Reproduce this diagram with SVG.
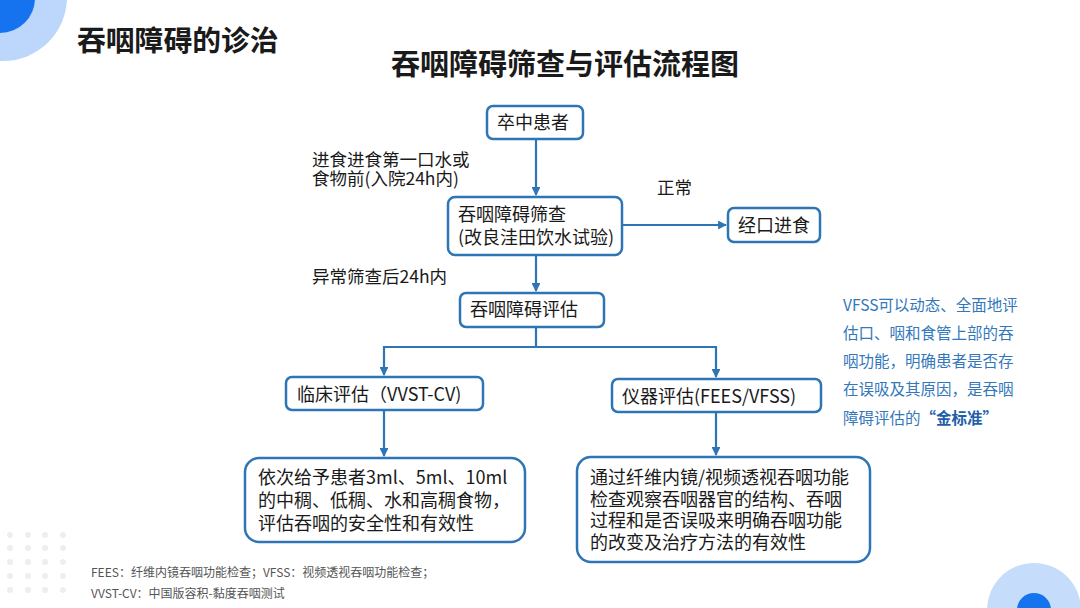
<svg xmlns="http://www.w3.org/2000/svg" width="1080" height="608" viewBox="0 0 1080 608">
<defs>
<style>
.box{fill:#fff;stroke:#2e75b6;stroke-width:2.5}
.t{font-family:"Noto Sans CJK SC","Microsoft YaHei",sans-serif;fill:#1a1a1a}
.n{font-size:18px}
.lb{font-size:17.5px}
.note{font-family:"Noto Sans CJK SC",sans-serif;font-size:15.5px;fill:#3478bb}
.foot{font-family:"Noto Sans CJK SC",sans-serif;font-size:12px;fill:#555}
.con{fill:none;stroke:#2e75b6;stroke-width:2.2}
.dot{fill:#eeeeee}
</style>
<marker id="ah" viewBox="0 0 10 10" refX="9" refY="5" markerWidth="4" markerHeight="4" orient="auto" markerUnits="strokeWidth">
<path d="M0,0 L10,5 L0,10 z" fill="#2e75b6"/>
</marker>
</defs>
<rect width="1080" height="608" fill="#fff"/>

<!-- decorations -->
<circle cx="3" cy="-3" r="64" fill="#bcd7fb"/>
<circle cx="0" cy="-2" r="35" fill="#1673f0"/>
<circle cx="1034" cy="610" r="47" fill="#c5ddfb"/>
<circle cx="1034" cy="610" r="17" fill="#1673f0"/>
<g>
<circle class="dot" cx="10" cy="535" r="3"/><circle class="dot" cx="28" cy="535" r="3"/><circle class="dot" cx="45" cy="535" r="3"/><circle class="dot" cx="63" cy="535" r="3"/>
<circle class="dot" cx="10" cy="548" r="3"/><circle class="dot" cx="28" cy="548" r="3"/><circle class="dot" cx="45" cy="548" r="3"/><circle class="dot" cx="63" cy="548" r="3"/>
<circle class="dot" cx="10" cy="562" r="3"/><circle class="dot" cx="28" cy="562" r="3"/><circle class="dot" cx="45" cy="562" r="3"/><circle class="dot" cx="63" cy="562" r="3"/>
<circle class="dot" cx="10" cy="576" r="3"/><circle class="dot" cx="28" cy="576" r="3"/><circle class="dot" cx="45" cy="576" r="3"/><circle class="dot" cx="63" cy="576" r="3"/>
<circle class="dot" cx="10" cy="590" r="3"/><circle class="dot" cx="28" cy="590" r="3"/><circle class="dot" cx="45" cy="590" r="3"/><circle class="dot" cx="63" cy="590" r="3"/>
</g>

<text class="t" x="77" y="51" font-size="28.8" font-weight="bold" fill="#111">吞咽障碍的诊治</text>
<text class="t" x="565" y="75" font-size="29" font-weight="bold" text-anchor="middle" fill="#111">吞咽障碍筛查与评估流程图</text>

<!-- connectors -->
<g id="connectors">
<path class="con" d="M536,139 V195" marker-end="url(#ah)"/>
<path class="con" d="M622,225 H726" marker-end="url(#ah)"/>
<path class="con" d="M536,256 V291" marker-end="url(#ah)"/>
<path class="con" d="M536,327 V347 H384 V375" marker-end="url(#ah)"/>
<path class="con" d="M536,347 H716 V377" marker-end="url(#ah)"/>
<path class="con" d="M384,410 V456" marker-end="url(#ah)"/>
<path class="con" d="M716,412 V455" marker-end="url(#ah)"/>
</g>

<!-- edge labels -->
<text class="t lb" x="312" y="166">进食进食第一口水或<tspan x="312" dy="19">食物前(入院24h内)</tspan></text>
<text class="t lb" x="657" y="194">正常</text>
<text class="t lb" x="312" y="283">异常筛查后24h内</text>

<!-- nodes -->
<g id="stroke-patient">
<rect class="box" x="487" y="106" width="96" height="33" rx="6"/>
<text class="t n" x="497" y="129">卒中患者</text>
</g>
<g id="screening">
<rect class="box" x="448" y="197" width="174" height="58" rx="7"/>
<text class="t n" x="458" y="221">吞咽障碍筛查<tspan x="458" dy="23">(改良洼田饮水试验)</tspan></text>
</g>
<g id="oral-feeding">
<rect class="box" x="728" y="208" width="92" height="34" rx="6"/>
<text class="t n" x="738" y="232">经口进食</text>
</g>
<g id="assessment">
<rect class="box" x="460" y="293" width="144" height="34" rx="6"/>
<text class="t n" x="470" y="316">吞咽障碍评估</text>
</g>
<g id="clinical">
<rect class="box" x="286" y="377" width="197" height="33" rx="6"/>
<text class="t n" x="297" y="401">临床评估（VVST-CV)</text>
</g>
<g id="instrument">
<rect class="box" x="612" y="379" width="209" height="33" rx="6"/>
<text class="t n" x="622" y="403">仪器评估(FEES/VFSS)</text>
</g>
<g id="clinical-detail">
<rect class="box" x="245" y="458" width="280" height="84" rx="14"/>
<text class="t n" x="258" y="484">依次给予患者3ml、5ml、10ml<tspan x="258" dy="23">的中稠、低稠、水和高稠食物，</tspan><tspan x="258" dy="23">评估吞咽的安全性和有效性</tspan></text>
</g>
<g id="instrument-detail">
<rect class="box" x="577" y="457" width="293" height="105" rx="14"/>
<text class="t n" x="590" y="484">通过纤维内镜/视频透视吞咽功能<tspan x="590" dy="21.5">检查观察吞咽器官的结构、吞咽</tspan><tspan x="590" dy="21.5">过程和是否误吸来明确吞咽功能</tspan><tspan x="590" dy="21.5">的改变及治疗方法的有效性</tspan></text>
</g>

<!-- side note -->
<g id="vfss-note">
<text class="note" x="843" y="311">VFSS可以动态、全面地评<tspan x="843" dy="28">估口、咽和食管上部的吞</tspan><tspan x="843" dy="28">咽功能，明确患者是否存</tspan><tspan x="843" dy="28">在误吸及其原因，是吞咽</tspan><tspan x="843" dy="29">障碍评估的</tspan><tspan font-weight="bold" fill="#1f5ea8">“金标准”</tspan></text>
</g>

<!-- footnotes -->
<text class="foot" x="91" y="577">FEES：纤维内镜吞咽功能检查；VFSS：视频透视吞咽功能检查；<tspan x="91" dy="21">VVST-CV：中国版容积-黏度吞咽测试</tspan></text>
</svg>
